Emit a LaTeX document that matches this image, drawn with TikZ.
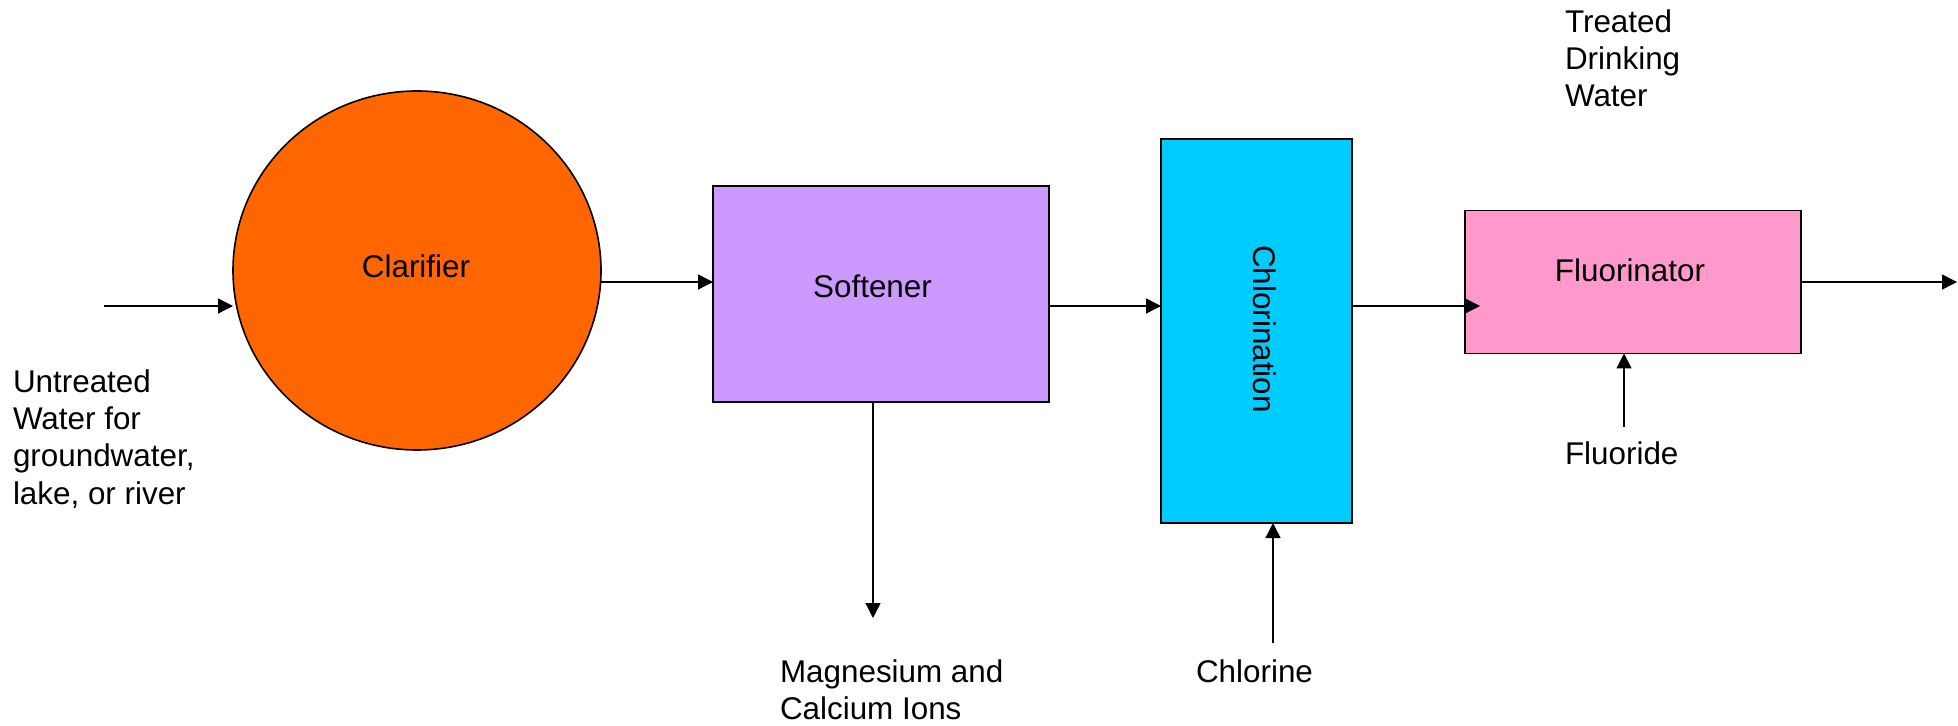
\documentclass[tikz,border=0pt]{standalone}
\usepackage{fontspec}
\setmainfont{Liberation Sans}
\usetikzlibrary{shapes.geometric,arrows.meta,calc}

\definecolor{clarfill}{HTML}{FF6600}
\definecolor{softfill}{HTML}{CC99FF}
\definecolor{chlfill}{HTML}{00CCFF}
\definecolor{flufill}{HTML}{FF99CC}

\tikzset{
  unitbox/.style={draw=black, line width=0.8pt, inner sep=0pt, outer sep=0pt},
  tank/.style={unitbox, ellipse},
  stage/.style={unitbox, rectangle},
  flow/.style={line width=0.7pt, -{Triangle[length=7.5pt,width=7.5pt]}},
  caption/.style={inner sep=0pt, outer sep=0pt, align=left,
    font=\fontsize{15.7pt}{18.5pt}\selectfont}
}

\begin{document}
\begin{tikzpicture}[x=0.5pt, y=-0.5pt]
  \useasboundingbox (0,0) rectangle (1958,726);

  % process units
  \node[tank, fill=clarfill, minimum width=184pt, minimum height=179.5pt] (clar) at (417,270.5) {};
  \node[stage, fill=softfill, minimum width=168pt, minimum height=108pt] (soft) at (881,294) {};
  \node[stage, fill=chlfill, minimum width=95.5pt, minimum height=192pt] (chl) at (1256.5,331) {};
  \node[stage, fill=flufill, minimum width=168pt, minimum height=71.5pt] (flu) at (1633,282) {};

  % unit names
  \node[caption, anchor=base] (clarlbl) at (416,278) {Clarifier};
  \node[caption, anchor=base] (softlbl) at (872.5,298) {Softener};
  \node[caption, anchor=base, rotate=-90] (chllbl) at (1253,329) {Chlorination};
  \node[caption, anchor=base] (flulbl) at (1630,282) {Fluorinator};

  % free ends of the flow lines
  \coordinate (inp) at (104,306);
  \coordinate (rowB) at (0,282);
  \coordinate (out) at (1957,282);
  \coordinate (ions) at (873,618);
  \coordinate (clin) at (1273,643);
  \coordinate (fin) at (1624,427);

  % main water path
  \draw[flow] (inp) -- (inp -| clar.west);
  \draw[flow] (clar.east |- rowB) -- (soft.west |- rowB);
  \draw[flow] (soft.east |- inp) -- (chl.west |- inp);
  \draw[flow] (chl.east |- inp) -- ($(flu.west |- inp)+(15,0)$);
  \draw[flow] (flu.east) -- (out);

  % side streams
  \draw[flow] (ions |- soft.south) -- (ions);
  \draw[flow] (clin) -- (clin |- chl.south);
  \draw[flow] (fin) -- (fin |- flu.south);

  % stream labels (base = baseline of the last line)
  \node[caption, anchor=base west] (raw) at (13,504)
    {Untreated\\Water for\\groundwater,\\lake, or river};
  \node[caption, anchor=base west] (ionslbl) at (780,719)
    {Magnesium and\\Calcium Ions};
  \node[caption, anchor=base west] (clinlbl) at (1196,682) {Chlorine};
  \node[caption, anchor=base west] (finlbl) at (1565,465) {Fluoride};
  \node[caption, anchor=base west] (outlbl) at (1565,107)
    {Treated\\Drinking\\Water};
\end{tikzpicture}
\end{document}
